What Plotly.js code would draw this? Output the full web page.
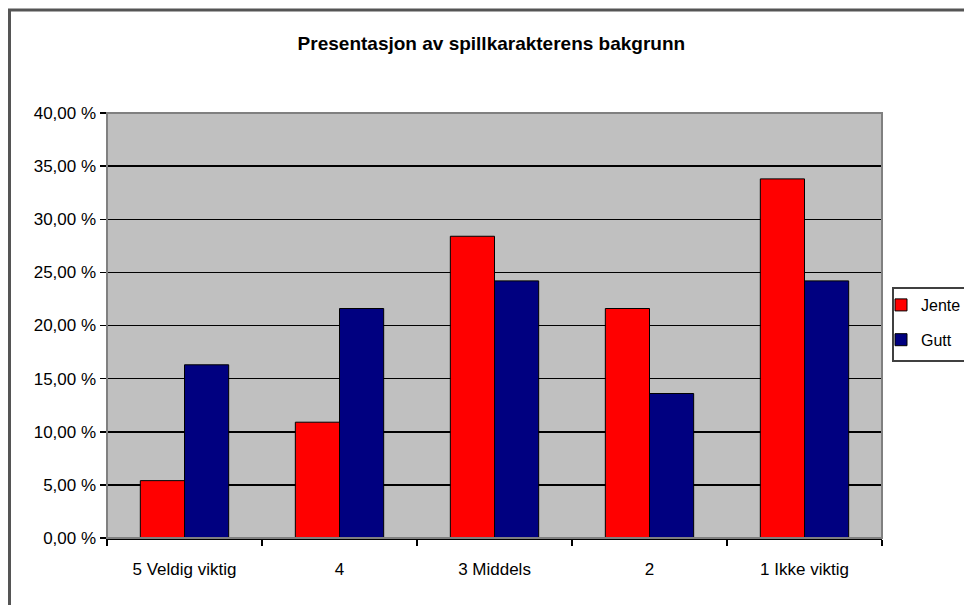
<!DOCTYPE html>
<html>
<head>
<meta charset="utf-8">
<script src="https://cdn.plot.ly/plotly-3.0.1.min.js"></script>
<style>
  html, body { margin: 0; padding: 0; background: #fff; }
  #chart { width: 964px; height: 605px; }
</style>
</head>
<body>
<div id="chart"></div>
<script>
// Svaralternativer (kategorier på x-aksen)
const categories = ["5 Veldig viktig", "4", "3 Middels", "2", "1 Ikke viktig"];

// Andel svar i prosent per kjønn
const jente = [5.4, 10.9, 28.4, 21.6, 33.8];
const gutt  = [16.3, 21.6, 24.2, 13.6, 24.2];

// Verdiaksen og etikettene på den
const yTicks = [0, 5, 10, 15, 20, 25, 30, 35, 40];
const yTickLabels = ["0,00 %", "5,00 %", "10,00 %", "15,00 %", "20,00 %",
                     "25,00 %", "30,00 %", "35,00 %", "40,00 %"];

const FONT = '"Liberation Sans", Arial, sans-serif';

const traces = [
  {
    type: 'bar', name: 'Jente', x: categories, y: jente,
    legendgroup: 'j',
    marker: { color: '#FF0000', line: { color: '#000000', width: 1 } },
    hoverinfo: 'skip'
  },
  {
    type: 'bar', name: 'Gutt', x: categories, y: gutt,
    legendgroup: 'g',
    marker: { color: '#000080', line: { color: '#000000', width: 1 } },
    hoverinfo: 'skip'
  }
];

const layout = {
  width: 964, height: 605,
  margin: { l: 107, r: 82, t: 113, b: 67, autoexpand: false },
  paper_bgcolor: '#FFFFFF',
  plot_bgcolor: '#C0C0C0',
  font: { family: FONT, color: '#000000', size: 17 },
  title: {
    text: '<b>Presentasjon av spillkarakterens bakgrunn</b>',
    font: { family: FONT, size: 19, color: '#000000' },
    x: 0.496, xanchor: 'center', xref: 'paper',
    y: 1 - 43 / 605, yanchor: 'middle', yref: 'container'
  },
  barmode: 'group',
  bargap: 0.43,
  bargroupgap: 0,
  xaxis: {
    type: 'category',
    tickson: 'boundaries',
    ticks: 'outside', ticklen: 6, tickwidth: 1.5, tickcolor: '#000000',
    showline: true, linecolor: '#000000', linewidth: 1.5,
    showgrid: false,
    ticklabelstandoff: 15,
    tickfont: { family: FONT, size: 17, color: '#000000' }
  },
  yaxis: {
    range: [0, 40],
    tickmode: 'array', tickvals: yTicks, ticktext: yTickLabels,
    ticks: 'outside', ticklen: 6, tickwidth: 1.5, tickcolor: '#000000',
    showline: true, linecolor: '#000000', linewidth: 1.5,
    showgrid: true, gridcolor: '#000000', gridwidth: 1.5,
    zeroline: false,
    tickfont: { family: FONT, size: 17, color: '#000000' }
  },
  showlegend: true,
  legend: {
    x: (881 - 107) / 775, xanchor: 'left',
    y: (538 - 288) / 425, yanchor: 'top',
    bgcolor: 'rgba(0,0,0,0)', borderwidth: 0,
    traceorder: 'grouped', tracegroupgap: 11,
    font: { family: FONT, size: 16, color: '#000000' }
  },
  shapes: [
    // ramme rundt hele diagrammet
    { type: 'rect', xref: 'paper', yref: 'paper', layer: 'above',
      x0: (9.5 - 107) / 775, x1: 1.3, y0: -0.4, y1: 1 + (113 - 10) / 425,
      line: { color: '#555555', width: 3 } },
    // kant rundt tegneområdet
    { type: 'rect', xref: 'paper', yref: 'paper', layer: 'above',
      x0: 0, x1: 1, y0: 0, y1: 1,
      line: { color: '#808080', width: 2 } },
    // ramme rundt forklaringen
    { type: 'rect', xref: 'paper', yref: 'paper', layer: 'above',
      x0: (893 - 107) / 775, x1: 1.2, y0: (538 - 361) / 425, y1: (538 - 288) / 425,
      line: { color: '#404040', width: 2 } }
  ]
};

Plotly.newPlot('chart', traces, layout, { staticPlot: true, displayModeBar: false });
</script>
</body>
</html>
